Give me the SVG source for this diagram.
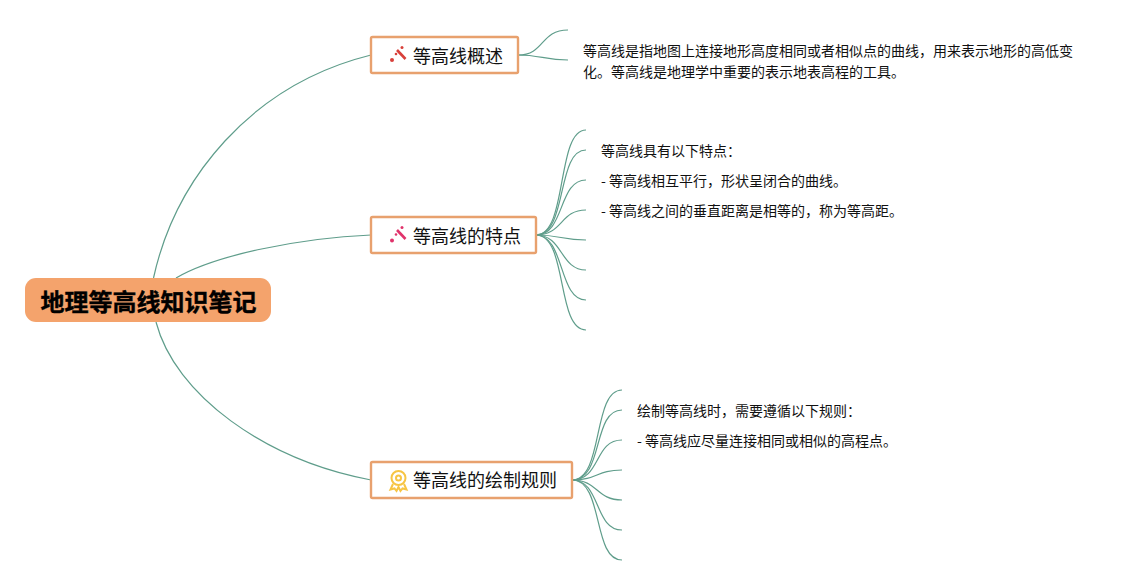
<svg xmlns="http://www.w3.org/2000/svg" width="1143" height="585" viewBox="0 0 1143 585">
<style>
text{font-family:"Noto Sans CJK SC","Liberation Sans",sans-serif;fill:#111}
.c{fill:none;stroke:#5f9d8b;stroke-width:1.2}
.n{fill:#fff;stroke:#e8a16e;stroke-width:2.400}
.t{font-size:18px}
.l{font-size:14px}
</style>
<rect width="1143" height="585" fill="#fff"/>
<g id="connectors">
<path class="c" d="M153.500 278C175 180 250 85 371 55"/>
<path class="c" d="M176 278C215 255 300 238 371 235"/>
<path class="c" d="M156 322C175 395 265 460 371 480"/>
<path class="c" d="M518 55C545 55 540 30 568 30"/>
<path class="c" d="M518 55C540 55 545 60 568 60"/>
<path class="c" d="M536 235C568 235 556 130 586 130"/>
<path class="c" d="M536 235C568 235 556 150 586 150"/>
<path class="c" d="M536 235C565 235 558 180 586 180"/>
<path class="c" d="M536 235C563 235 560 210 586 210"/>
<path class="c" d="M536 235C560 235 562 240 586 240"/>
<path class="c" d="M536 235C563 235 560 270 586 270"/>
<path class="c" d="M536 235C565 235 558 300 586 300"/>
<path class="c" d="M536 235C568 235 556 330 586 330"/>
<path class="c" d="M572 480C604 480 592 390 622 390"/>
<path class="c" d="M572 480C604 480 592 410 622 410"/>
<path class="c" d="M572 480C601 480 594 440 622 440"/>
<path class="c" d="M572 480C598 480 596 470 622 470"/>
<path class="c" d="M572 480C598 480 596 500 622 500"/>
<path class="c" d="M572 480C601 480 594 530 622 530"/>
<path class="c" d="M572 480C604 480 592 560 622 560"/>
</g>
<g id="root">
<rect x="25" y="278" width="246" height="44" rx="11" fill="#f4a36c"/>
<text x="148.500" y="310.500" font-size="24" font-weight="700" text-anchor="middle" style="fill:#000;stroke:#000;stroke-width:.4">地理等高线知识笔记</text>
</g>
<g id="node1">
<rect class="n" x="371" y="37" width="147" height="36" rx="1.500"/>
<g fill="#d8403a"><path d="M397 50l8.500 9" stroke="#d8403a" stroke-width="2.600"/><circle cx="392" cy="60" r="2"/><circle cx="396" cy="54" r="1.300"/><circle cx="402" cy="47.500" r="1.500"/></g>
<text class="t" x="413" y="63">等高线概述</text>
</g>
<g id="node2">
<rect class="n" x="371" y="217" width="165" height="36" rx="1.500"/>
<g fill="#e0336b"><path d="M397 230l8.500 9" stroke="#e0336b" stroke-width="2.600"/><circle cx="392" cy="240.500" r="2"/><circle cx="396" cy="234.500" r="1.300"/><circle cx="402" cy="227.500" r="1.500"/></g>
<text class="t" x="413" y="243">等高线的特点</text>
</g>
<g id="node3">
<rect class="n" x="371" y="462" width="201" height="36" rx="1.500"/>
<g fill="none" stroke="#f7c544" stroke-width="2"><circle cx="398.500" cy="478" r="7"/><circle cx="398.500" cy="478" r="2.500"/><path d="M393 484l-2.500 5.500 4-1 2 2.500 2-4 2 4 2-2.500 4 1-2.500-5.500"/></g>
<text class="t" x="413" y="487">等高线的绘制规则</text>
</g>
<g id="leaf1">
<text class="l" x="583" y="56">等高线是指地图上连接地形高度相同或者相似点的曲线，用来表示地形的高低变</text>
<text class="l" x="583" y="77">化。等高线是地理学中重要的表示地表高程的工具。</text>
</g>
<g id="leaf2">
<text class="l" x="601" y="156">等高线具有以下特点：</text>
<text class="l" x="601" y="186">- 等高线相互平行，形状呈闭合的曲线。</text>
<text class="l" x="601" y="216">- 等高线之间的垂直距离是相等的，称为等高距。</text>
</g>
<g id="leaf3">
<text class="l" x="637" y="416">绘制等高线时，需要遵循以下规则：</text>
<text class="l" x="637" y="446">- 等高线应尽量连接相同或相似的高程点。</text>
</g>
</svg>
